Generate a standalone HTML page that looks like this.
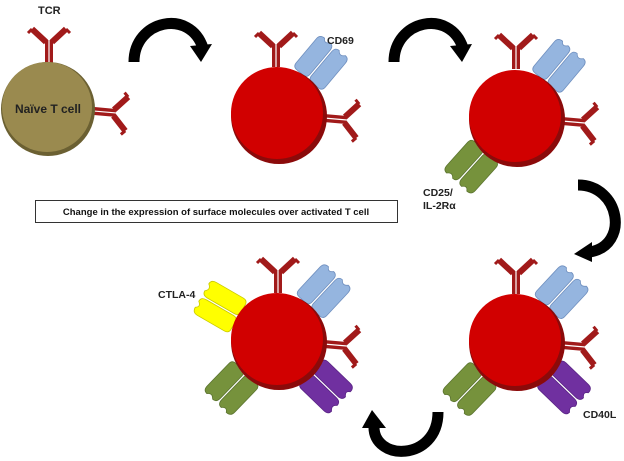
<!DOCTYPE html>
<html><head><meta charset="utf-8"><style>
html,body{margin:0;padding:0;background:#fff;width:624px;height:461px;overflow:hidden}
svg{display:block}
text{font-family:"Liberation Sans",Arial,sans-serif;font-weight:bold}
</style></head><body>
<svg width="624" height="461" viewBox="0 0 624 461" xmlns="http://www.w3.org/2000/svg">
<defs>
<g id="tcr">
  <rect x="-4" y="-22" width="8" height="23" fill="#a11a1a"/>
  <line x1="0" y1="-22" x2="0" y2="1" stroke="#fff" stroke-width="1.2"/>
  <path d="M-3,-20 L-17,-33" stroke="#a11a1a" stroke-width="6" fill="none"/>
  <path d="M3,-20 L17,-33" stroke="#a11a1a" stroke-width="6" fill="none"/>
  <path d="M-17,-33 l-4,4 M17,-33 l4,4" stroke="#a11a1a" stroke-width="3"/>
</g>
<g id="rec">
  <path d="M-19,-5 L-19,-36 Q-19,-42 -13,-42 Q-10,-37 -6,-42 Q-1,-42 -1,-36 L-1,-5 Q-1,0 -6,0 L-14,0 Q-19,0 -19,-5Z"/>
  <path d="M1,-5 L1,-36 Q1,-42 6,-42 Q10,-37 14,-42 Q19,-42 19,-36 L19,-5 Q19,0 14,0 L6,0 Q1,0 1,-5Z"/>
</g>
</defs>

<!-- Naive T cell -->
<use href="#tcr" transform="translate(49,62)"/>
<use href="#tcr" transform="translate(48,107) rotate(95) translate(0,-46)"/>
<circle cx="48" cy="109" r="47" fill="#6b6032"/>
<circle cx="47" cy="107" r="45" fill="#9a8a4f"/>
<text x="48" y="113" font-size="12" text-anchor="middle" fill="#222">Naïve T cell</text>
<text x="38" y="14" font-size="11" fill="#222">TCR</text>

<!-- Cell 2 -->
<use href="#tcr" transform="translate(276,66)"/>
<use href="#tcr" transform="translate(278,114) rotate(95) translate(0,-47)"/>
<g fill="#95b5df" stroke="#6f8fbf" stroke-width="0.8"><use href="#rec" transform="translate(278,114) rotate(40) translate(0,-46)"/></g>
<circle cx="279" cy="116" r="48" fill="#8b0a0a"/>
<circle cx="277" cy="113" r="46" fill="#d10000"/>
<text x="327" y="44" font-size="10.5" fill="#222">CD69</text>

<!-- Cell 3 -->
<use href="#tcr" transform="translate(516,68)"/>
<use href="#tcr" transform="translate(516,117) rotate(95) translate(0,-47)"/>
<g fill="#95b5df" stroke="#6f8fbf" stroke-width="0.8"><use href="#rec" transform="translate(516,117) rotate(40) translate(0,-46)"/></g>
<g fill="#76923c" stroke="#5c7530" stroke-width="0.8"><use href="#rec" transform="translate(516,117) rotate(222) translate(0,-46)"/></g>
<circle cx="517" cy="119" r="48" fill="#8b0a0a"/>
<circle cx="515" cy="116" r="46" fill="#d10000"/>
<text x="423" y="196" font-size="10.5" fill="#222">CD25/</text>
<text x="423" y="209" font-size="10.5" fill="#222">IL-2Rα</text>

<!-- Cell 4 -->
<use href="#tcr" transform="translate(278,292)"/>
<use href="#tcr" transform="translate(278,340) rotate(95) translate(0,-47)"/>
<g fill="#95b5df" stroke="#6f8fbf" stroke-width="0.8"><use href="#rec" transform="translate(278,340) rotate(43) translate(0,-46)"/></g>
<g fill="#76923c" stroke="#5c7530" stroke-width="0.8"><use href="#rec" transform="translate(278,340) rotate(224) translate(0,-46)"/></g>
<g fill="#7030a0" stroke="#5a2485" stroke-width="0.8"><use href="#rec" transform="translate(278,340) rotate(134) translate(0,-46)"/></g>
<g fill="#ffff00" stroke="#c9c900" stroke-width="0.8"><use href="#rec" transform="translate(278,340) rotate(-60) translate(0,-46)"/></g>
<circle cx="279" cy="342" r="48" fill="#8b0a0a"/>
<circle cx="277" cy="339" r="46" fill="#d10000"/>
<text x="158" y="298" font-size="10.5" fill="#222">CTLA-4</text>

<!-- Cell 5 -->
<use href="#tcr" transform="translate(516,293)"/>
<use href="#tcr" transform="translate(516,341) rotate(95) translate(0,-47)"/>
<g fill="#95b5df" stroke="#6f8fbf" stroke-width="0.8"><use href="#rec" transform="translate(516,341) rotate(43) translate(0,-46)"/></g>
<g fill="#76923c" stroke="#5c7530" stroke-width="0.8"><use href="#rec" transform="translate(516,341) rotate(224) translate(0,-46)"/></g>
<g fill="#7030a0" stroke="#5a2485" stroke-width="0.8"><use href="#rec" transform="translate(516,341) rotate(134) translate(0,-46)"/></g>
<circle cx="517" cy="343" r="48" fill="#8b0a0a"/>
<circle cx="515" cy="340" r="46" fill="#d10000"/>
<text x="583" y="418" font-size="10.5" fill="#222">CD40L</text>

<!-- Text box -->
<rect x="35.5" y="200.5" width="362" height="22" fill="#fff" stroke="#333" stroke-width="1"/>
<text x="216" y="215" font-size="9.5" text-anchor="middle" fill="#111">Change in the expression of surface molecules over activated T cell</text>

<!-- Arrows -->
<g fill="none" stroke="#000" stroke-width="11">
  <path d="M134,62 C134,20 190,8 203,48"/>
  <path d="M394,62 C394,20 450,8 463,48"/>
  <path d="M578,185 C620,185 630,245 590,252"/>
  <path d="M438,412 C438,462 372,462 374,425"/>
</g>
<g fill="#000">
  <polygon points="190,46 212,44 201,62"/>
  <polygon points="450,46 472,44 462,62"/>
  <polygon points="592,242 592,262 574,254"/>
  <polygon points="362,428 386,428 372,410"/>
</g>
</svg>
</body></html>
